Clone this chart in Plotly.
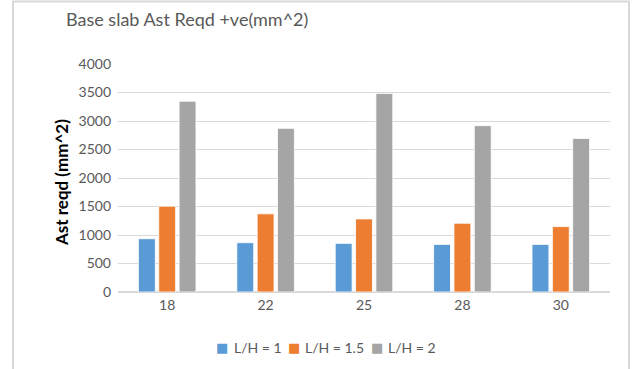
import plotly.graph_objects as go

categories = ["18", "22", "25", "28", "30"]
series_names = ["L/H = 1", "L/H = 1.5", "L/H = 2"]
lh_1 = [935, 865, 853, 835, 835]
lh_1_5 = [1506, 1371, 1282, 1206, 1147]
lh_2 = [3347, 2871, 3482, 2918, 2694]
colors = ["#5B9BD5", "#ED7D31", "#A5A5A5"]
y_ticks = [0, 500, 1000, 1500, 2000, 2500, 3000, 3500, 4000]

W, H = 632, 369
L, R, T, B = 118, 22, 64, 77
pw, ph = W - L - R, H - T - B

def px_x(x):
    return (x - L) / pw

def px_y(y):
    return (H - B - y) / ph

fig = go.Figure()
for name, vals, c in zip(series_names, [lh_1, lh_1_5, lh_2], colors):
    fig.add_trace(go.Bar(x=categories, y=vals, name=name, marker_color=c,
                         marker_line=dict(color="white", width=0.8)))

font_family = "Lato, Open Sans, sans-serif"

# legend drawn as text entries (square marker + label)
legend_sq_x = [222, 294, 377]
legend_txt_x = [232, 303, 386]
annotations = [dict(text="<b>Ast reqd (mm^2)</b>", textangle=-90, x=px_x(61), y=px_y(183),
                    xref="paper", yref="paper", xanchor="center", yanchor="middle", showarrow=False,
                    font=dict(size=17, color="black", family=font_family))]
for name, c, sx, tx in zip(series_names, colors, legend_sq_x, legend_txt_x):
    annotations.append(dict(text="■", x=px_x(sx), y=px_y(347), xref="paper", yref="paper",
                            xanchor="center", yanchor="middle", showarrow=False,
                            font=dict(size=13, color=c, family="DejaVu Sans")))
    annotations.append(dict(text=name, x=px_x(tx), y=px_y(347), xref="paper", yref="paper",
                            xanchor="left", yanchor="middle", showarrow=False,
                            font=dict(size=14, color="#595959", family=font_family)))

fig.update_layout(
    width=W, height=H,
    margin=dict(l=L, r=R, t=T, b=B, autoexpand=False),
    paper_bgcolor="white", plot_bgcolor="white",
    barmode="group", bargap=0.38, bargroupgap=0.17,
    font=dict(family=font_family, color="#595959", size=14),
    title=dict(text="Base slab Ast Reqd +ve(mm^2)", x=66 / W, xanchor="left",
               y=1 - 20 / H, yanchor="middle", xref="container", yref="container",
               pad=dict(l=0, r=0, t=0, b=0),
               font=dict(size=18, color="#595959", family=font_family)),
    showlegend=False,
    xaxis=dict(type="category", showgrid=False, showline=True, linecolor="#d9d9d9", linewidth=1,
               ticks="", automargin=False, tickfont=dict(size=14, color="#595959")),
    yaxis=dict(range=[0, 4000], tickvals=y_ticks, showgrid=True, gridcolor="#d9d9d9", gridwidth=1,
               zeroline=True, zerolinecolor="#d9d9d9", showline=False, ticks="", automargin=False,
               ticklabelstandoff=6, tickfont=dict(size=14, color="#595959")),
    annotations=annotations,
    shapes=[dict(type="rect", xref="paper", yref="paper",
                 x0=px_x(13), x1=px_x(629), y0=px_y(380), y1=px_y(1.5),
                 line=dict(color="#d9d9d9", width=2), fillcolor="rgba(0,0,0,0)", layer="below")],
)

fig.write_html("out.html", config={"displayModeBar": False},
               post_script="document.body.style.margin='0';")
